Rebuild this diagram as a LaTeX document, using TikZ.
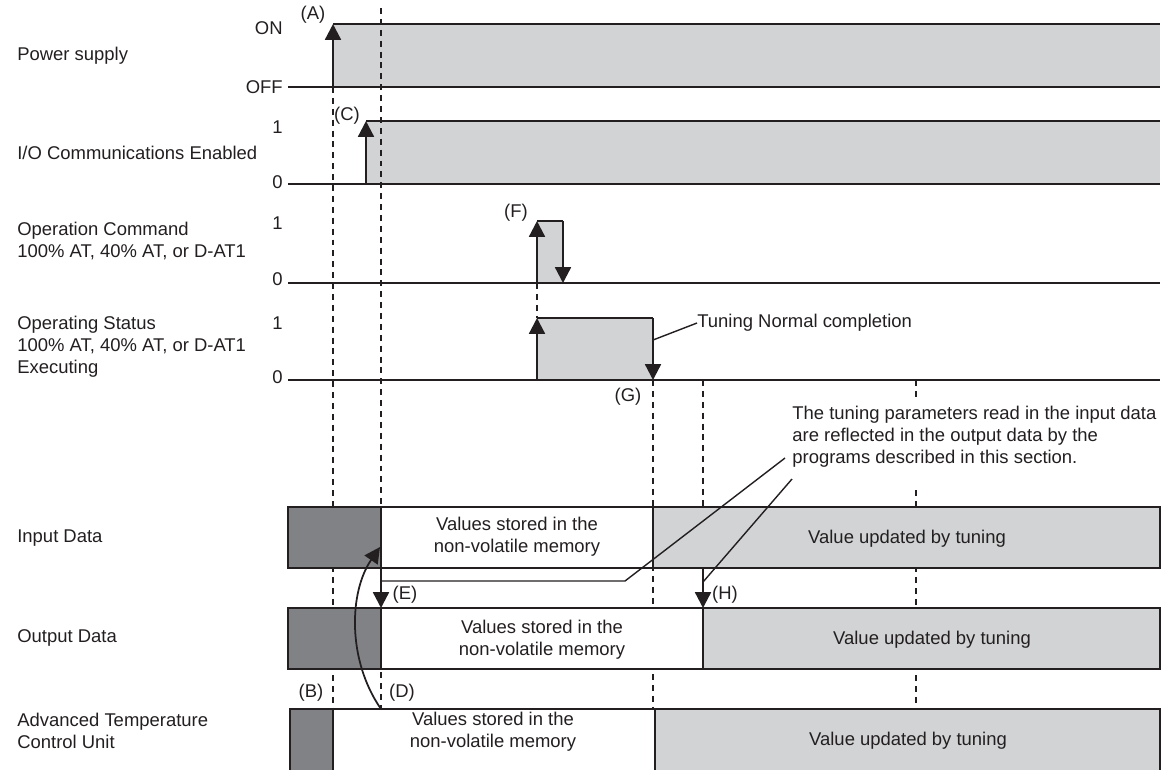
\documentclass[tikz,border=0pt]{standalone}
\usepackage{fontspec}
\setmainfont{Liberation Sans}
\usetikzlibrary{arrows.meta, positioning}

\definecolor{lightfill}{RGB}{209,211,212}
\definecolor{darkfill}{RGB}{128,130,133}
\definecolor{ink}{RGB}{35,31,32}

\begin{document}
\begin{tikzpicture}[
		x=0.02cm, y=-0.02cm,
		lbl/.style = {font=\fontsize{10.5}{12.5}\selectfont, text=ink, inner sep=0pt},
		signame/.style = {lbl, anchor=west, align=left},
		level/.style = {lbl, anchor=east},
		bartext/.style = {lbl, align=center},
		sig/.style = {draw=ink, line width=1.3pt},
		guide/.style = {draw=ink, line width=1pt, dash pattern=on 3.4pt off 2.8pt},
		bar/.style = {draw=ink, line width=1.2pt},
		edge/.style = {draw=ink, line width=1.3pt, -{Triangle[width=9pt, length=9pt]}},
		note/.style = {draw=ink, line width=0.8pt}
		]
		\useasboundingbox (0,0) rectangle (1165,769);
		\clip (0,0) rectangle (1165,769);
		
		% Nombres de las senales
		\node[signame] (power) at (17,56) {Power supply};
		\node[signame] (iocom) at (17,153) {I/O Communications Enabled};
		\node[signame] (opcmd) at (17,241) {Operation Command\\100\% AT, 40\% AT, or D-AT1};
		\node[signame] (opstat) at (17,347) {Operating Status\\100\% AT, 40\% AT, or D-AT1\\Executing};
		\node[signame] (indata) at (17,538) {Input Data};
		\node[signame] (outdata) at (17,638) {Output Data};
		\node[signame] (unit) at (17,731) {Advanced Temperature\\Control Unit};
		
		% Niveles
		\node[level] (on) at (283,28) {ON};
		\node[level] (off) at (283,87) {OFF};
		\node[level] (io1) at (283,127) {1};
		\node[level] (io0) at (283,182) {0};
		\node[level] (cmd1) at (283,223) {1};
		\node[level] (cmd0) at (283,279) {0};
		\node[level] (st1) at (283,323) {1};
		\node[level] (st0) at (283,377) {0};
		
		% Rellenos de los pulsos
		\fill[lightfill] (333,24) rectangle (1160,87);
		\fill[lightfill] (366,121) rectangle (1160,184);
		\fill[lightfill] (537,221) rectangle (563,283);
		\fill[lightfill] (537,318) rectangle (653,380);
		
		% Lineas guia
		\draw[guide] (333,87) -- (333,709);
		\draw[guide] (381,8) -- (381,709);
		\draw[guide] (537,283) -- (537,318);
		\draw[guide] (653,380) -- (653,709);
		\draw[guide] (703,380) -- (703,568);
		\draw[guide] (916,380) -- (916,398);
		\draw[guide] (916,490) -- (916,709);
		
		% Senales
		\draw[sig] (288,87) -- (1160,87);
		\draw[sig] (333,24) -- (1160,24);
		\draw[edge] (333,87) -- (333,24);
		
		\draw[sig] (288,184) -- (1160,184);
		\draw[sig] (366,121) -- (1160,121);
		\draw[edge] (366,184) -- (366,121);
		
		\draw[sig] (288,283) -- (1160,283);
		\draw[sig] (537,221) -- (563,221);
		\draw[edge] (537,283) -- (537,221);
		\draw[edge] (563,221) -- (563,283);
		
		\draw[sig] (288,380) -- (1160,380);
		\draw[sig] (537,318) -- (653,318);
		\draw[edge] (537,380) -- (537,318);
		\draw[edge] (653,318) -- (653,380);
		
		% Marcas
		\node[lbl] (markA) at (313,15) {(A)};
		\node[lbl] (markC) at (347,116) {(C)};
		\node[lbl] (markF) at (516,213) {(F)};
		\node[lbl] (markG) at (628,397) {(G)};
		\node[lbl] (markB) at (311,693) {(B)};
		\node[lbl] (markD) at (402,693) {(D)};
		\node[lbl] (markE) at (405,595) {(E)};
		\node[lbl] (markH) at (725,595) {(H)};
		
		% Barras de datos
		\filldraw[bar, fill=darkfill] (288,507) rectangle (381,568);
		\filldraw[bar, fill=white] (381,507) rectangle (653,568);
		\filldraw[bar, fill=lightfill] (653,507) rectangle (1160,568);
		\node[bartext] (inold) at (517,537) {Values stored in the\\non-volatile memory};
		\node[bartext] (innew) at (907,539) {Value updated by tuning};
		
		\filldraw[bar, fill=darkfill] (288,608) rectangle (381,669);
		\filldraw[bar, fill=white] (381,608) rectangle (703,669);
		\filldraw[bar, fill=lightfill] (703,608) rectangle (1160,669);
		\node[bartext] (outold) at (542,640) {Values stored in the\\non-volatile memory};
		\node[bartext] (outnew) at (932,640) {Value updated by tuning};
		
		\filldraw[bar, fill=darkfill] (290,709) rectangle (333,790);
		\filldraw[bar, fill=white] (333,709) rectangle (655,790);
		\filldraw[bar, fill=lightfill] (655,709) rectangle (1160,790);
		\node[bartext] (unitold) at (493,732) {Values stored in the\\non-volatile memory};
		\node[bartext] (unitnew) at (908,741) {Value updated by tuning};
		
		% Transferencias
		\coordinate (inE) at (381,568);
		\coordinate (outE) at (381,608);
		\coordinate (inH) at (703,568);
		\coordinate (outH) at (703,608);
		\coordinate (unitD) at (381,709);
		\coordinate (inD) at (380,547);
		\draw[edge] (inE) -- (outE);
		\draw[edge] (inH) -- (outH);
		\draw[edge, line width=1pt] (unitD) .. controls (347,660) and (349,592) .. (inD);
		
		% Comentarios
		\node[lbl, anchor=west] (done) at (697,323) {Tuning Normal completion};
		\draw[note] (653,340) -- (done.west);
		\node[lbl, anchor=west, align=left] (remark) at (792,437)
			{The tuning parameters read in the input data\\are reflected in the output data by the\\programs described in this section.};
		\draw[note] (381,581) -- (625,581) -- (785,458);
		\draw[note] (703,582) -- (792,479);
	\end{tikzpicture}
\end{document}
